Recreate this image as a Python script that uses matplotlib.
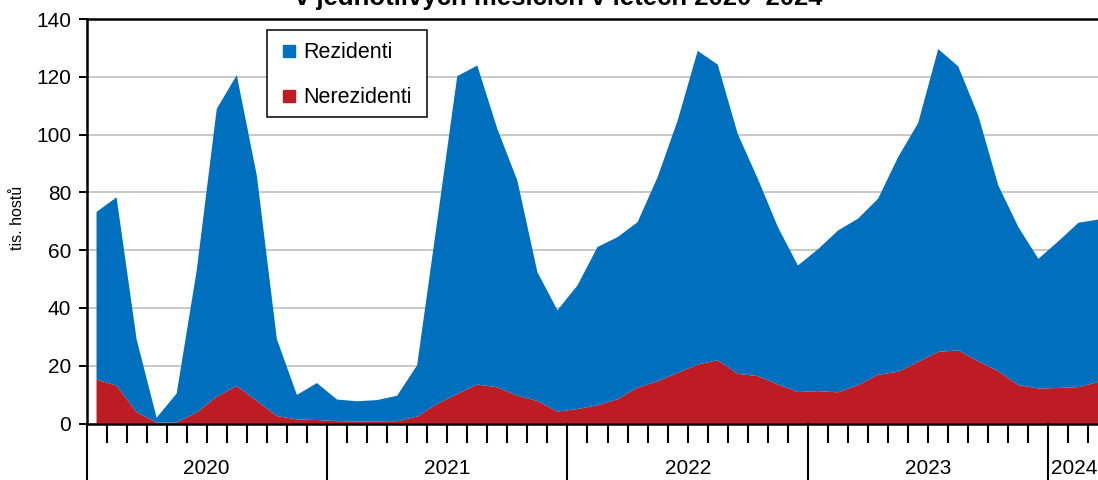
import numpy as np
import matplotlib
matplotlib.use("Agg")
import matplotlib.pyplot as plt
from matplotlib.transforms import blended_transform_factory
from matplotlib.lines import Line2D
from matplotlib.patches import Rectangle

plt.rcParams['font.family'] = ['Liberation Sans', 'DejaVu Sans']

# ---- data (tis. hostů), monthly Jan 2020 - Mar 2024 ----
years = ["2020", "2021", "2022", "2023", "2024"]
months_per_year = [12, 12, 12, 12, 3]

nerezidenti = [15.2, 13.1, 3.9, 0.3, 0.4, 3.8, 9.3, 13.0, 7.8, 2.6, 1.4, 1.2,
               0.8, 0.7, 0.7, 0.8, 2.4, 6.8, 10.2, 13.5, 12.5, 9.6, 7.8, 4.1,
               5.0, 6.3, 8.4, 12.4, 14.6, 17.5, 20.4, 21.9, 17.2, 16.4, 13.5, 10.9,
               11.2, 10.8, 13.3, 16.9, 17.9, 21.3, 24.8, 25.3, 21.5, 18.1, 13.3, 12.1,
               12.3, 12.6, 14.4]
rezidenti = [58.0, 65.2, 25.3, 1.7, 10.0, 49.2, 99.6, 107.6, 78.0, 26.6, 8.5, 12.8,
             7.5, 7.0, 7.4, 8.8, 17.8, 63.2, 110.0, 110.4, 89.5, 74.5, 44.6, 35.1,
             42.8, 54.8, 56.1, 57.3, 70.7, 87.4, 108.6, 102.3, 83.0, 68.3, 54.5, 43.8,
             49.1, 56.0, 57.6, 60.9, 74.3, 82.7, 104.8, 98.3, 85.1, 64.3, 54.7, 44.9,
             50.8, 56.9, 56.2]
series_labels = ["Rezidenti", "Nerezidenti"]
yticks = [0, 20, 40, 60, 80, 100, 120, 140]

BLUE = "#0070BE"
RED = "#BE1C24"

W, H = 1098, 480
fig = plt.figure(figsize=(W / 100, H / 100), dpi=100)

n = len(rezidenti)
px_left, px_right = 86.5, 86.5 + n * 20.04
px_top, px_bot = 19, 423.5
ax = fig.add_axes([px_left / W, 1 - px_bot / H, (px_right - px_left) / W, (px_bot - px_top) / H])

x = np.arange(n)
ax.stackplot(x, nerezidenti, rezidenti, colors=[RED, BLUE], linewidth=0, zorder=2)

ax.set_xlim(-0.5, n - 0.5)
ax.set_ylim(0, 140)
ax.set_yticks(yticks)
ax.set_yticklabels([str(v) for v in yticks])
ax.yaxis.grid(True, color="#C4C4C4", linewidth=1.3)
ax.set_axisbelow(True)

for side in ["left", "bottom", "top"]:
    ax.spines[side].set_linewidth(1.8)
    ax.spines[side].set_color("black")
    ax.spines[side].set_zorder(5)
ax.spines["right"].set_visible(False)

ax.tick_params(axis="y", length=6, width=1.4, labelsize=15, pad=5, direction="out")

# month tick marks
bounds_year = []
acc = 0
for m in months_per_year:
    bounds_year.append(acc - 0.5)
    acc += m
month_bounds = [b - 0.5 for b in range(1, n + 1) if (b - 0.5) not in bounds_year]
ax.set_xticks([])
ax.set_xticks(month_bounds, minor=True)
ax.tick_params(axis="x", which="minor", length=14, width=1.5, direction="out", labelbottom=False)

trans = blended_transform_factory(ax.transData, ax.transAxes)
depth = (H - px_bot + 2) / (px_bot - px_top)
for b in bounds_year:
    ax.plot([b, b], [0, -depth], transform=trans, color="black", lw=1.5, clip_on=False, zorder=6)

ylab = -(469 - px_bot) / (px_bot - px_top)
acc = 0
for yr, m in zip(years, months_per_year):
    centre = acc + (m - 1) / 2
    if m < 12:
        centre -= 0.2
    ax.text(centre, ylab, yr, transform=trans, ha="center", va="center", fontsize=15)
    acc += m

fig.text(18 / W, 1 - 218 / H, "tis. hostů", rotation=90, ha="center", va="center", fontsize=11.5)

fig.text(559 / W, 1 - 4.5 / H, "v jednotlivých měsících v letech 2020–2024",
         ha="center", va="baseline", fontsize=18.5, fontweight="bold")

# legend (manual frame)
lx0, ly0, lx1, ly1 = 267, 30, 427, 117
fig.patches.append(Rectangle((lx0 / W, 1 - ly1 / H), (lx1 - lx0) / W, (ly1 - ly0) / H,
                             transform=fig.transFigure, fill=True, facecolor="white",
                             edgecolor="black", linewidth=1.1, zorder=10))
handles = [Line2D([], [], marker="s", linestyle="none", color=BLUE, markersize=8),
           Line2D([], [], marker="s", linestyle="none", color=RED, markersize=8)]
leg = fig.legend(handles, series_labels, loc="upper left",
                 bbox_to_anchor=(261 / W, 1 - 25 / H), frameon=False, fontsize=15.5,
                 handlelength=1.0, handletextpad=0.15, labelspacing=1.11, borderpad=0.3)
leg.set_zorder(11)

fig.savefig("out.png", dpi=100)
